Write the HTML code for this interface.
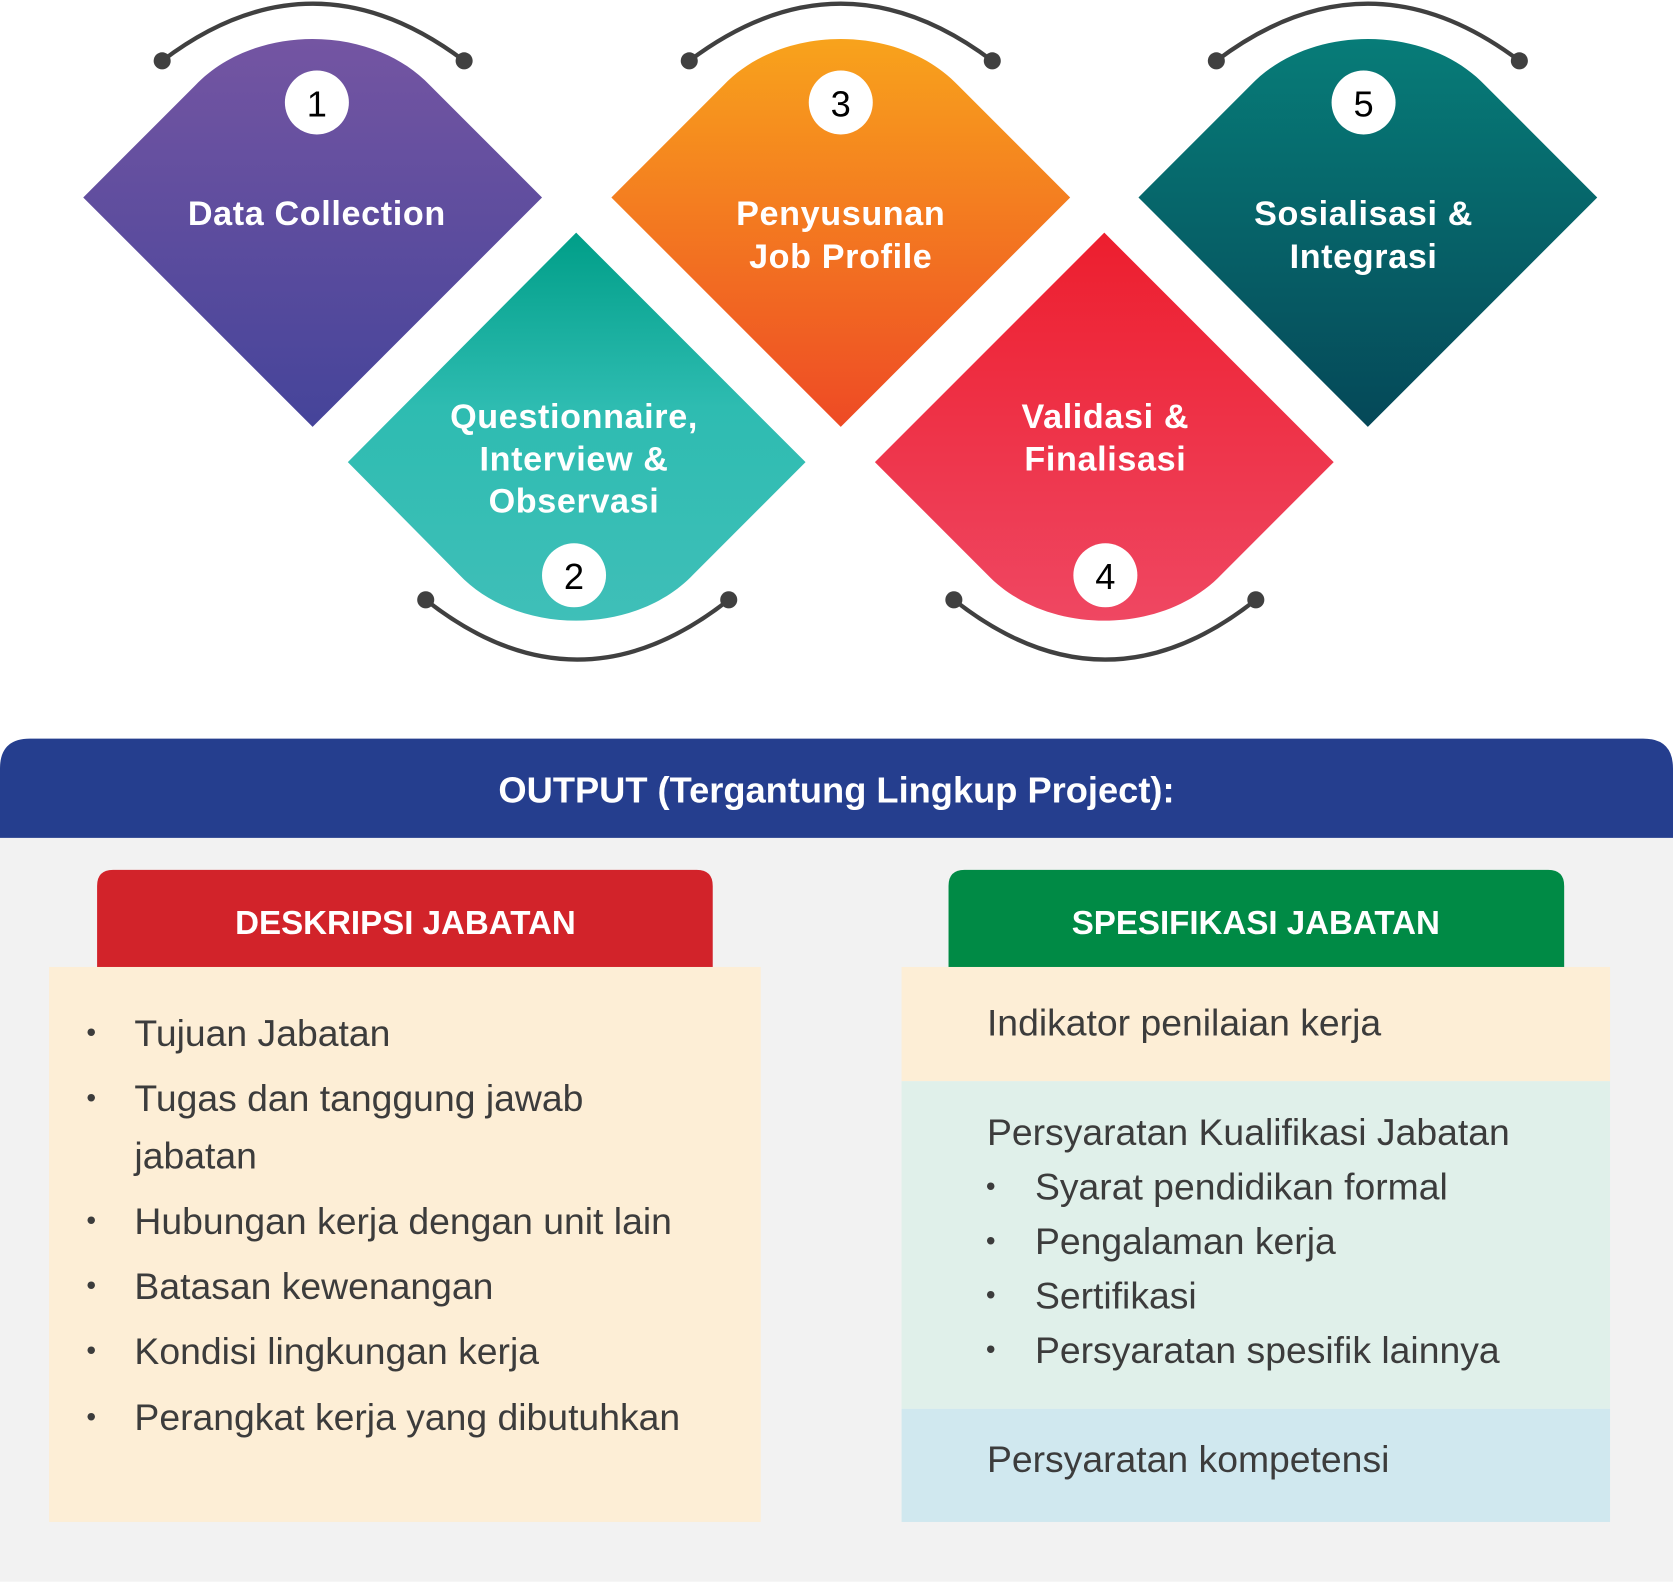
<!DOCTYPE html>
<html><head><meta charset="utf-8"><style>html,body{margin:0;padding:0;background:#fff}svg{display:block}</style></head>
<body>
<svg width="1673" height="1586" viewBox="0 0 1568 1486" preserveAspectRatio="none" xmlns="http://www.w3.org/2000/svg" font-family="'Liberation Sans', sans-serif">
<defs>
<linearGradient id="g1" x1="0" y1="0" x2="0" y2="1"><stop offset="0" stop-color="#7455a2"/><stop offset="1" stop-color="#45449a"/></linearGradient>
<linearGradient id="g2" x1="0" y1="0" x2="0" y2="1"><stop offset="0" stop-color="#009e88"/><stop offset="0.45" stop-color="#2ebcb1"/><stop offset="1" stop-color="#3fbfb8"/></linearGradient>
<linearGradient id="g3" x1="0" y1="0" x2="0" y2="1"><stop offset="0" stop-color="#f8a31c"/><stop offset="1" stop-color="#ee4a25"/></linearGradient>
<linearGradient id="g4" x1="0" y1="0" x2="0" y2="1"><stop offset="0" stop-color="#ed1e2e"/><stop offset="1" stop-color="#ef4762"/></linearGradient>
<linearGradient id="g5" x1="0" y1="0" x2="0" y2="1"><stop offset="0" stop-color="#077c78"/><stop offset="1" stop-color="#054858"/></linearGradient>
</defs>

<path d="M78,185 L183,80 C238,22 348,22 403,80 L508,185 L293,400 Z" fill="url(#g1)"/>
<path d="M573,185 L678,80 C733,22 843,22 898,80 L1003,185 L788,400 Z" fill="url(#g3)"/>
<path d="M1067,185 L1172,80 C1227,22 1337,22 1392,80 L1497,185 L1282,400 Z" fill="url(#g5)"/>
<path d="M540,218 L755,433 L650,538 C595,596 485,596 430,538 L326,433 Z" fill="url(#g2)"/>
<path d="M1035,218 L1250,433 L1145,538 C1090,596 980,596 925,538 L820,433 Z" fill="url(#g4)"/>

<g stroke="#404040" stroke-width="4" fill="none">
<path d="M152,57 Q293,-50 435,57"/>
<path d="M646,57 Q788,-50 930,57"/>
<path d="M1140,57 Q1282,-50 1424,57"/>
<path d="M399,562 Q541,674 683,562"/>
<path d="M894,562 Q1036,674 1177,562"/>
</g>
<g fill="#404040">
<circle cx="152" cy="57" r="8"/><circle cx="435" cy="57" r="8"/>
<circle cx="646" cy="57" r="8"/><circle cx="930" cy="57" r="8"/>
<circle cx="1140" cy="57" r="8"/><circle cx="1424" cy="57" r="8"/>
<circle cx="399" cy="562" r="8"/><circle cx="683" cy="562" r="8"/>
<circle cx="894" cy="562" r="8"/><circle cx="1177" cy="562" r="8"/>
</g>

<g fill="#fff">
<circle cx="297" cy="96" r="30"/><circle cx="788" cy="96" r="30"/><circle cx="1278" cy="96" r="30"/>
<circle cx="538" cy="539" r="30"/><circle cx="1036" cy="539" r="30"/>
</g>
<g font-size="34" fill="#000" text-anchor="middle">
<text x="297" y="109">1</text><text x="788" y="109">3</text><text x="1278" y="109">5</text>
<text x="538" y="552">2</text><text x="1036" y="552">4</text>
</g>

<g font-size="32" font-weight="bold" fill="#fff" text-anchor="middle" letter-spacing="0.6">
<text x="297" y="211">Data Collection</text>
<text x="788" y="211">Penyusunan</text><text x="788" y="251">Job Profile</text>
<text x="1278" y="211">Sosialisasi &amp;</text><text x="1278" y="251">Integrasi</text>
<text x="538" y="401">Questionnaire,</text><text x="538" y="441">Interview &amp;</text><text x="538" y="480">Observasi</text>
<text x="1036" y="401">Validasi &amp;</text><text x="1036" y="441">Finalisasi</text>
</g>

<rect x="0" y="780" width="1568" height="702" fill="#f2f2f2"/>
<path d="M0,785 L0,720 Q0,692 28,692 L1540,692 Q1568,692 1568,720 L1568,785 Z" fill="#253e8e"/>
<text x="784" y="752" font-size="34" font-weight="bold" fill="#fff" text-anchor="middle">OUTPUT (Tergantung Lingkup Project):</text>

<path d="M91,906 L91,830 Q91,815 106,815 L653,815 Q668,815 668,830 L668,906 Z" fill="#d2232a"/>
<text x="380" y="875" font-size="31" font-weight="bold" fill="#fff" text-anchor="middle">DESKRIPSI JABATAN</text>
<rect x="46" y="906" width="667" height="520" fill="#fdeed6"/>

<path d="M889,906 L889,830 Q889,815 904,815 L1451,815 Q1466,815 1466,830 L1466,906 Z" fill="#008a45"/>
<text x="1177" y="875" font-size="31" font-weight="bold" fill="#fff" text-anchor="middle">SPESIFIKASI JABATAN</text>
<rect x="845" y="906" width="664" height="107" fill="#fdeed6"/>
<rect x="845" y="1013" width="664" height="307" fill="#e0f0ea"/>
<rect x="845" y="1320" width="664" height="106" fill="#d0e8ef"/>

<g font-size="35" fill="#3c3c3c">
<g font-size="26"><text x="81" y="976">•</text><text x="81" y="1037">•</text><text x="81" y="1152">•</text><text x="81" y="1213">•</text><text x="81" y="1274">•</text><text x="81" y="1336">•</text>
<text x="924" y="1120">•</text><text x="924" y="1171">•</text><text x="924" y="1222">•</text><text x="924" y="1273">•</text></g>
<text x="126" y="980">Tujuan Jabatan</text>
<text x="126" y="1041">Tugas dan tanggung jawab</text>
<text x="126" y="1095">jabatan</text>
<text x="126" y="1156">Hubungan kerja dengan unit lain</text>
<text x="126" y="1217">Batasan kewenangan</text>
<text x="126" y="1278">Kondisi lingkungan kerja</text>
<text x="126" y="1340">Perangkat kerja yang dibutuhkan</text>

<text x="925" y="970">Indikator penilaian kerja</text>
<text x="925" y="1073">Persyaratan Kualifikasi Jabatan</text>
<text x="970" y="1124">Syarat pendidikan formal</text>
<text x="970" y="1175">Pengalaman kerja</text>
<text x="970" y="1226">Sertifikasi</text>
<text x="970" y="1277">Persyaratan spesifik lainnya</text>
<text x="925" y="1379">Persyaratan kompetensi</text>
</g>
</svg>
</body></html>
